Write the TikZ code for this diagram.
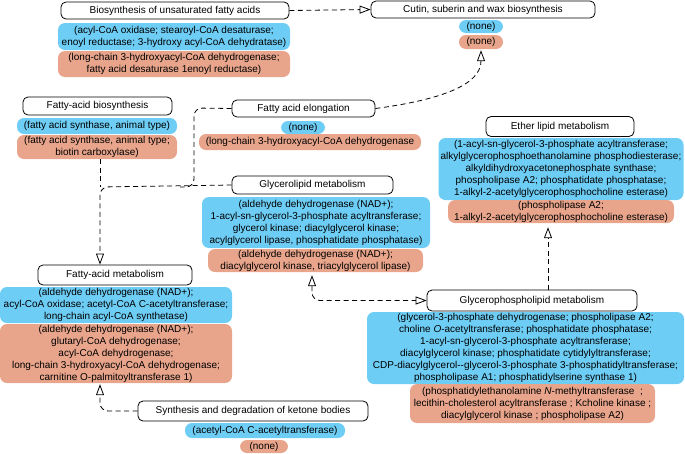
\documentclass[tikz,border=0pt]{standalone}
\usepackage{fontspec}
\setmainfont{Liberation Sans}
\usetikzlibrary{arrows.meta}
\definecolor{cblue}{RGB}{110,205,245}
\definecolor{corange}{RGB}{233,165,140}
\begin{document}
\begin{tikzpicture}[x=1pt,y=-1pt,
  every node/.style={font=\fontsize{10}{12}\selectfont, align=center, inner sep=0pt},
  title/.style={draw=black, line width=0.8pt, fill=white, rounded corners=5pt},
  bbox/.style={fill=cblue, rounded corners=7pt},
  obox/.style={fill=corange, rounded corners=7pt},
  conn/.style={draw=black, line width=0.8pt, dash pattern=on 5pt off 3.5pt, rounded corners=8pt},
  tip/.style={-{Triangle[open,length=11pt,width=8pt]}},
  dtip/.style={{Triangle[open,length=11pt,width=8pt]}-{Triangle[open,length=11pt,width=8pt]}}
]
\useasboundingbox (0,0) rectangle (685,453);

% Biosynthesis of unsaturated fatty acids
\node[title, minimum width=228pt, minimum height=17pt] (bua) at (175,10.5) {Biosynthesis of unsaturated fatty acids};
\node[bbox, minimum width=232pt, minimum height=27pt] (buaB) at (174,36.5) {(acyl-CoA oxidase; stearoyl-CoA desaturase;\\enoyl reductase; 3-hydroxy acyl-CoA dehydratase)};
\node[obox, minimum width=232pt, minimum height=26pt] (buaO) at (174,64) {(long-chain 3-hydroxyacyl-CoA dehydrogenase;\\fatty acid desaturase 1enoyl reductase)};

% Cutin
\node[title, minimum width=224pt, minimum height=17pt] (cutin) at (483,9.5) {Cutin, suberin and wax biosynthesis};
\node[bbox, minimum width=44pt, minimum height=13pt] (cutinB) at (481,26.5) {(none)};
\node[obox, minimum width=44pt, minimum height=14pt] (cutinO) at (481,42) {(none)};

% Fatty-acid biosynthesis
\node[title, minimum width=149pt, minimum height=18pt] (fab) at (97.5,106) {Fatty-acid biosynthesis};
\node[bbox, minimum width=160pt, minimum height=16pt] (fabB) at (97,126) {(fatty acid synthase, animal type)};
\node[obox, minimum width=160pt, minimum height=24pt] (fabO) at (97,147) {(fatty acid synthase, animal type;\\biotin carboxylase)};

% Fatty acid elongation
\node[title, minimum width=143pt, minimum height=17pt] (fae) at (303.5,108.5) {Fatty acid elongation};
\node[bbox, minimum width=44pt, minimum height=13pt] (faeB) at (303,127.5) {(none)};
\node[obox, minimum width=222pt, minimum height=16pt] (faeO) at (310,142) {(long-chain 3-hydroxyacyl-CoA dehydrogenase};

% Glycerolipid metabolism
\node[title, minimum width=161pt, minimum height=18pt] (gl) at (312.5,185) {Glycerolipid metabolism};
\node[bbox, minimum width=228pt, minimum height=51pt] (glB) at (316,222.5) {(aldehyde dehydrogenase (NAD+);\\1-acyl-sn-glycerol-3-phosphate acyltransferase;\\glycerol kinase; diacylglycerol kinase;\\acylglycerol lipase, phosphatidate phosphatase)};
\node[obox, minimum width=215pt, minimum height=23pt] (glO) at (315.5,260.5) {(aldehyde dehydrogenase (NAD+);\\diacylglycerol kinase, triacylglycerol lipase)};

% Ether lipid metabolism
\node[title, minimum width=148pt, minimum height=20pt] (ether) at (560,126.5) {Ether lipid metabolism};
\node[bbox, minimum width=245pt, minimum height=62pt] (etherB) at (561,169) {(1-acyl-sn-glycerol-3-phosphate acyltransferase;\\alkylglycerophosphoethanolamine phosphodiesterase;\\alkyldihydroxyacetonephosphate synthase;\\phospholipase A2; phosphatidate phosphatase;\\1-alkyl-2-acetylglycerophosphocholine esterase)};
\node[obox, minimum width=226pt, minimum height=23pt] (etherO) at (561,211.5) {(phospholipase A2;\\1-alkyl-2-acetylglycerophosphocholine esterase)};

% Fatty-acid metabolism
\node[title, minimum width=154pt, minimum height=20pt] (fam) at (115,275) {Fatty-acid metabolism};
\node[bbox, minimum width=232pt, minimum height=36pt] (famB) at (116,305) {(aldehyde dehydrogenase (NAD+);\\acyl-CoA oxidase; acetyl-CoA C-acetyltransferase;\\long-chain acyl-CoA synthetase)};
\node[obox, minimum width=232pt, minimum height=59pt] (famO) at (116,353.5) {(aldehyde dehydrogenase (NAD+);\\glutaryl-CoA dehydrogenase;\\acyl-CoA dehydrogenase;\\long-chain 3-hydroxyacyl-CoA dehydrogenase;\\carnitine O-palmitoyltransferase 1)};

% Ketone bodies
\node[title, minimum width=230pt, minimum height=20pt] (kb) at (253,411) {Synthesis and degradation of ketone bodies};
\node[bbox, minimum width=160pt, minimum height=15pt] (kbB) at (265,430.5) {(acetyl-CoA C-acetyltransferase)};
\node[obox, minimum width=48pt, minimum height=13pt] (kbO) at (264,446.5) {(none)};

% Glycerophospholipid metabolism
\node[title, minimum width=210pt, minimum height=21pt] (gpl) at (532,300.5) {Glycerophospholipid metabolism};
\node[bbox, minimum width=317pt, minimum height=72pt] (gplB) at (525.5,348) {(glycerol-3-phosphate dehydrogenase; phospholipase A2;\\choline \textit{O}-acetyltransferase; phosphatidate phosphatase;\\1-acyl-sn-glycerol-3-phosphate acyltransferase;\\diacylglycerol kinase; phosphatidate cytidylyltransferase;\\CDP-diacylglycerol-{}-glycerol-3-phosphate 3-phosphatidyltransferase;\\phospholipase A1; phosphatidylserine synthase 1)};
\node[obox, minimum width=245pt, minimum height=39pt] (gplO) at (532.5,403.5) {(phosphatidylethanolamine \textit{N}-methyltransferase\ \ ;\\lecithin-cholesterol acyltransferase\ ; Kcholine kinase\ ;\\diacylglycerol kinase\ ; phospholipase A2)};

% connectors
\coordinate (j1) at (100,187);
\coordinate (j2) at (194,187);

\draw[conn,tip] (bua.east) -- (cutin.west);
\draw[conn,tip,shorten >=1pt] (fae.east) .. controls (440,100) and (481,85) .. (cutinO.south);
\draw[conn] (fae.west) -- (194,108) -- (j2) -- (180,187);
\draw[conn] (fabO.south -| j1) -- (j1);
\draw[conn,tip] (gl.west) -- (j1) -- (fam.north -| j1);
\draw[conn,dtip,shorten <=3pt] ([xshift=-3.5pt]glO.south) |- (gpl.west);
\draw[conn,tip,shorten >=4pt] ([xshift=16pt]gpl.north) -- ([xshift=16pt]gpl.north |- etherO.south);
\draw[conn,tip,shorten >=1pt] (kb.west) -| ([xshift=-16pt]famO.south);
\end{tikzpicture}
\end{document}
